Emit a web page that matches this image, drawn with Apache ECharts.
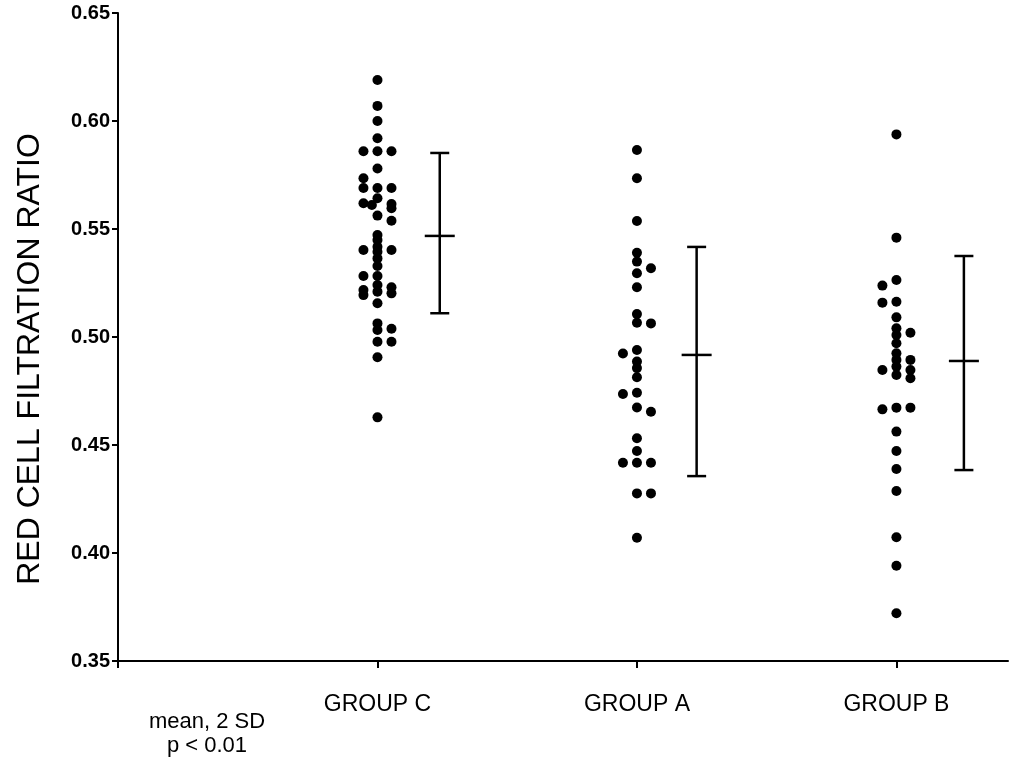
<!DOCTYPE html>
<html>
<head>
<meta charset="utf-8">
<script src="https://cdn.jsdelivr.net/npm/echarts@6/dist/echarts.min.js"></script>
<style>html,body{margin:0;padding:0;background:#fff}#c{width:1010px;height:775px}</style>
</head>
<body>
<div id="c"></div>
<script>
// ---- data ----
const categories = ['GROUP C', 'GROUP A', 'GROUP B'];
const yTicks = [0.35, 0.40, 0.45, 0.50, 0.55, 0.60, 0.65];

// individual values, split by the column they are drawn in
const groupC_center = [0.619, 0.607, 0.600, 0.592, 0.586, 0.578, 0.569, 0.5642, 0.5562, 0.5472, 0.5449, 0.5418, 0.5395, 0.5364, 0.5329, 0.5282, 0.5241, 0.521, 0.5156, 0.5063, 0.5032, 0.4978, 0.4906, 0.4628];
const groupC_left = [0.586, 0.5735, 0.569, 0.5619, 0.5403, 0.5282, 0.5218, 0.5194];
const groupC_innerLeft = [0.5611];
const groupC_right = [0.586, 0.569, 0.5616, 0.5596, 0.5538, 0.5403, 0.523, 0.5202, 0.5038, 0.4978];

const groupA_center = [0.5866, 0.5735, 0.5537, 0.539, 0.5349, 0.5295, 0.523, 0.5106, 0.5066, 0.494, 0.4886, 0.4856, 0.4814, 0.4742, 0.4674, 0.4531, 0.4472, 0.4418, 0.4276, 0.4071];
const groupA_left = [0.4924, 0.4736, 0.4418];
const groupA_innerLeft = [];
const groupA_right = [0.5318, 0.5063, 0.4654, 0.4418, 0.4276];

const groupB_center = [0.5938, 0.546, 0.5264, 0.5163, 0.5091, 0.504, 0.5009, 0.4971, 0.4925, 0.4894, 0.4863, 0.4824, 0.4673, 0.4562, 0.4472, 0.4389, 0.4287, 0.4073, 0.3941, 0.3721];
const groupB_left = [0.5238, 0.5159, 0.4847, 0.4665];
const groupB_innerLeft = [];
const groupB_right = [0.502, 0.4894, 0.4847, 0.4809, 0.4673];

// mean and mean +/- 2 SD per group
const sdMean = [0.5468, 0.4917, 0.4889];
const sdLow = [0.511, 0.4356, 0.4384];
const sdHigh = [0.5852, 0.5417, 0.5375];

const noteLines = ['mean, 2 SD', 'p < 0.01'];
const yTitle = 'RED CELL FILTRATION RATIO';

// ---- drawing ----
const COL = 0.054;          // column spacing in axis units
const ERR_OFF = [0.24, 0.23, 0.26];
const groups = [
  [groupC_center, groupC_left, groupC_innerLeft, groupC_right],
  [groupA_center, groupA_left, groupA_innerLeft, groupA_right],
  [groupB_center, groupB_left, groupB_innerLeft, groupB_right]
];
const colOffsets = [0, -COL, -0.4 * COL, COL];
const dots = [];
groups.forEach((g, i) => {
  g.forEach((arr, k) => arr.forEach(v => dots.push([i + 1 + colOffsets[k], v])));
});
const errData = categories.map((c, i) => [i + 1 + ERR_OFF[i], sdLow[i], sdMean[i], sdHigh[i]]);

const FONT = '"Liberation Sans", Arial, Helvetica, sans-serif';
const chart = echarts.init(document.getElementById('c'), null, {renderer: 'canvas'});
chart.setOption({
  animation: false,
  backgroundColor: '#fff',
  grid: {left: 118, right: 2, top: 13, bottom: 114, containLabel: false},
  xAxis: {
    type: 'value', min: 0, max: 3.43, interval: 1,
    splitLine: {show: false},
    axisLine: {show: true, onZero: false, lineStyle: {color: '#000', width: 2}},
    axisTick: {show: true, length: 7, lineStyle: {color: '#000', width: 2}},
    axisLabel: {
      color: '#000', fontFamily: FONT, fontSize: 23, margin: 32,
      showMaxLabel: false,
      formatter: v => (v >= 1 && v <= 3 && Math.abs(v - Math.round(v)) < 1e-6) ? categories[Math.round(v) - 1] : ''
    }
  },
  yAxis: {
    type: 'value', min: 0.35, max: 0.65, interval: 0.05,
    splitLine: {show: false},
    axisLine: {show: true, onZero: false, lineStyle: {color: '#000', width: 2}},
    axisTick: {show: true, length: 6, lineStyle: {color: '#000', width: 2}},
    axisLabel: {
      color: '#000', fontFamily: FONT, fontSize: 20, fontWeight: 'bold', margin: 8,
      formatter: v => {
        const t = yTicks.find(x => Math.abs(x - v) < 1e-6);
        return t !== undefined ? t.toFixed(2) : '';
      }
    }
  },
  graphic: [
    {type: 'text', x: 30, y: 359, rotation: Math.PI / 2,
     style: {text: yTitle, fill: '#000', font: '32px ' + FONT, align: 'center', verticalAlign: 'middle'}},
    {type: 'text', x: 207, y: 722,
     style: {text: noteLines[0], fill: '#000', font: '22px ' + FONT, align: 'center', verticalAlign: 'middle'}},
    {type: 'text', x: 207, y: 746,
     style: {text: noteLines[1], fill: '#000', font: '22px ' + FONT, align: 'center', verticalAlign: 'middle'}}
  ],
  series: [
    {
      type: 'scatter', data: dots, symbol: 'circle', symbolSize: 10,
      itemStyle: {color: '#000', opacity: 1}, silent: true
    },
    {
      type: 'custom', data: errData, silent: true,
      renderItem: (params, api) => {
        const x = api.value(0);
        const pLo = api.coord([x, api.value(1)]);
        const pM = api.coord([x, api.value(2)]);
        const pHi = api.coord([x, api.value(3)]);
        const st = {stroke: '#000', lineWidth: 2.5};
        const cap = 9.5, mw = 15;
        return {type: 'group', children: [
          {type: 'line', shape: {x1: pLo[0], y1: pLo[1], x2: pHi[0], y2: pHi[1]}, style: st},
          {type: 'line', shape: {x1: pLo[0] - cap, y1: pLo[1], x2: pLo[0] + cap, y2: pLo[1]}, style: st},
          {type: 'line', shape: {x1: pHi[0] - cap, y1: pHi[1], x2: pHi[0] + cap, y2: pHi[1]}, style: st},
          {type: 'line', shape: {x1: pM[0] - mw, y1: pM[1], x2: pM[0] + mw, y2: pM[1]}, style: st}
        ]};
      }
    }
  ]
});
</script>
</body>
</html>
